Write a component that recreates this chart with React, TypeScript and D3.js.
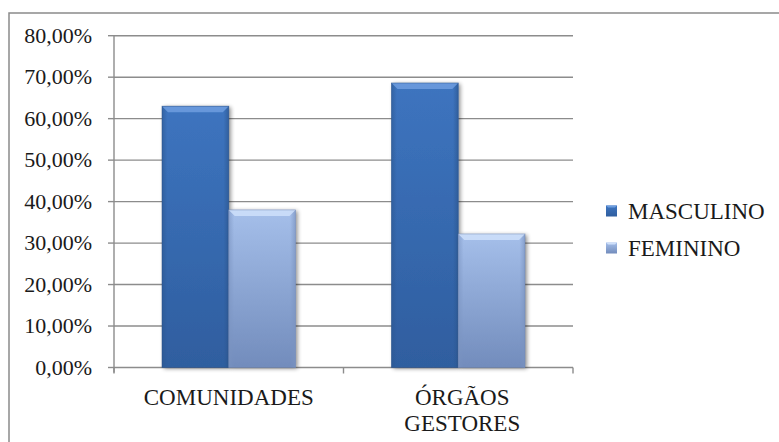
import React from "react";
import * as d3 from "d3";

const categories = ["COMUNIDADES", "ÓRGÃOS GESTORES"];
const seriesNames = ["MASCULINO", "FEMININO"];
const masculino = [63.0, 68.6];
const feminino = [38.0, 32.2];
const yTicks = [0, 10, 20, 30, 40, 50, 60, 70, 80];

const W = 779;
const H = 442;
const plot = { left: 114, right: 573, top: 35.7, bottom: 367.5 };

const colors: Record<string, { top: string; bottom: string; bevel: string; side: string; edge: string }> = {
  MASCULINO: { top: "#3D74BF", bottom: "#2F5E9F", bevel: "#6E9EDF", side: "#2C5790", edge: "#2A5288" },
  FEMININO: { top: "#A5BFEA", bottom: "#728CBC", bevel: "#CFE0FA", side: "#7A93C0", edge: "#6E86B2" },
};

export default function App() {
  const x = d3.scaleBand<string>().domain(categories).range([plot.left, plot.right]).padding(0);
  const bw = x.bandwidth();
  const gap = 48;
  const xs = d3.scaleBand<string>().domain(seriesNames).range([gap, bw - gap]).padding(0);
  const y = d3.scaleLinear().domain([0, 80]).range([plot.bottom, plot.top]);
  const fmt = (v: number) => d3.format(".2f")(v).replace(".", ",") + "%";
  const values: Record<string, number[]> = { MASCULINO: masculino, FEMININO: feminino };
  const font = "'Liberation Serif', serif";
  const bev = 6;

  return (
    <svg width={W} height={H} style={{ position: "absolute", left: 0, top: 0, background: "#fff" }}>
      <defs>
        {seriesNames.map((s) => (
          <linearGradient key={s} id={"g-" + s} x1="0" y1="0" x2="0" y2="1">
            <stop offset="0%" stopColor={colors[s].top} />
            <stop offset="100%" stopColor={colors[s].bottom} />
          </linearGradient>
        ))}
        {seriesNames.map((s) => (
          <linearGradient key={"h" + s} id={"h-" + s} x1="0" y1="0" x2="1" y2="0">
            <stop offset="0%" stopColor={colors[s].side} stopOpacity={0.6} />
            <stop offset="8%" stopColor={colors[s].side} stopOpacity={0} />
            <stop offset="92%" stopColor={colors[s].side} stopOpacity={0} />
            <stop offset="100%" stopColor={colors[s].side} stopOpacity={0.7} />
          </linearGradient>
        ))}
        <filter id="shadow" x="-20%" y="-5%" width="140%" height="110%">
          <feGaussianBlur in="SourceAlpha" stdDeviation="2" />
          <feOffset dx="2" dy="1" result="b" />
          <feComponentTransfer>
            <feFuncA type="linear" slope="0.45" />
          </feComponentTransfer>
          <feMerge>
            <feMergeNode />
            <feMergeNode in="SourceGraphic" />
          </feMerge>
        </filter>
      </defs>

      {/* outer chart border */}
      <rect x={9} y={13} width={W} height={H} fill="none" stroke="#8a8a8a" strokeWidth={1.5} />

      {/* gridlines */}
      {yTicks.map((t) => (
        <line key={"g" + t} x1={plot.left} x2={plot.right} y1={y(t)} y2={y(t)} stroke="#8c8c8c" strokeWidth={1.4} />
      ))}

      {/* y axis */}
      <line x1={plot.left} x2={plot.left} y1={plot.top} y2={plot.bottom + 5} stroke="#8c8c8c" strokeWidth={1.4} />
      {yTicks.map((t) => (
        <g key={"t" + t}>
          <line x1={plot.left - 6} x2={plot.left} y1={y(t)} y2={y(t)} stroke="#8c8c8c" strokeWidth={1.4} />
          <text x={92} y={y(t) + 7} textAnchor="end" fontFamily={font} fontSize={22} fill="#1a1a1a">
            {fmt(t)}
          </text>
        </g>
      ))}

      {/* x ticks */}
      {[plot.left, ...categories.map((c) => (x(c) as number) + bw)].map((px, i) => (
        <line key={"xt" + i} x1={px} x2={px} y1={plot.bottom} y2={plot.bottom + 6} stroke="#8c8c8c" strokeWidth={1.4} />
      ))}

      {/* bars */}
      {categories.map((c, ci) => (
        <g key={c}>
          {seriesNames.map((s) => {
            const bx = (x(c) as number) + (xs(s) as number);
            const w = xs.bandwidth();
            const top = y(values[s][ci]);
            const h = plot.bottom - top;
            return (
              <g key={s}>
                <rect x={bx} y={top} width={w} height={h} fill={"url(#g-" + s + ")"} filter="url(#shadow)" />
                <rect x={bx} y={top} width={w} height={h} fill={"url(#h-" + s + ")"} />
                <polygon
                  points={`${bx},${top} ${bx + w},${top} ${bx + w - bev},${top + bev} ${bx + bev},${top + bev}`}
                  fill={colors[s].bevel}
                  opacity={0.85}
                />
                <rect x={bx} y={top} width={w} height={h} fill="none" stroke={colors[s].edge} strokeWidth={0.8} strokeOpacity={0.6} />
              </g>
            );
          })}
        </g>
      ))}

      {/* category labels */}
      {categories.map((c, ci) => {
        const lines = c.split(" ");
        const cx = (x(c) as number) + bw / 2 + ci * 4;
        return (
          <text key={"l" + c} x={cx} textAnchor="middle" fontFamily={font} fontSize={23} fill="#1a1a1a">
            {lines.map((ln, i) => (
              <tspan key={i} x={cx} y={405 + i * 25.5}>
                {ln}
              </tspan>
            ))}
          </text>
        );
      })}

      {/* legend */}
      {seriesNames.map((s, i) => {
        const cy = 211 + i * 37;
        return (
          <g key={"lg" + s}>
            <rect x={606} y={cy - 5.5} width={11} height={11} fill={"url(#g-" + s + ")"} />
            <polygon
              points={`606,${cy - 5.5} 617,${cy - 5.5} 615,${cy - 3.5} 608,${cy - 3.5}`}
              fill={colors[s].bevel}
            />
            <text x={628} y={cy + 7.5} fontFamily={font} fontSize={23} fill="#1a1a1a">
              {s}
            </text>
          </g>
        );
      })}
    </svg>
  );
}
